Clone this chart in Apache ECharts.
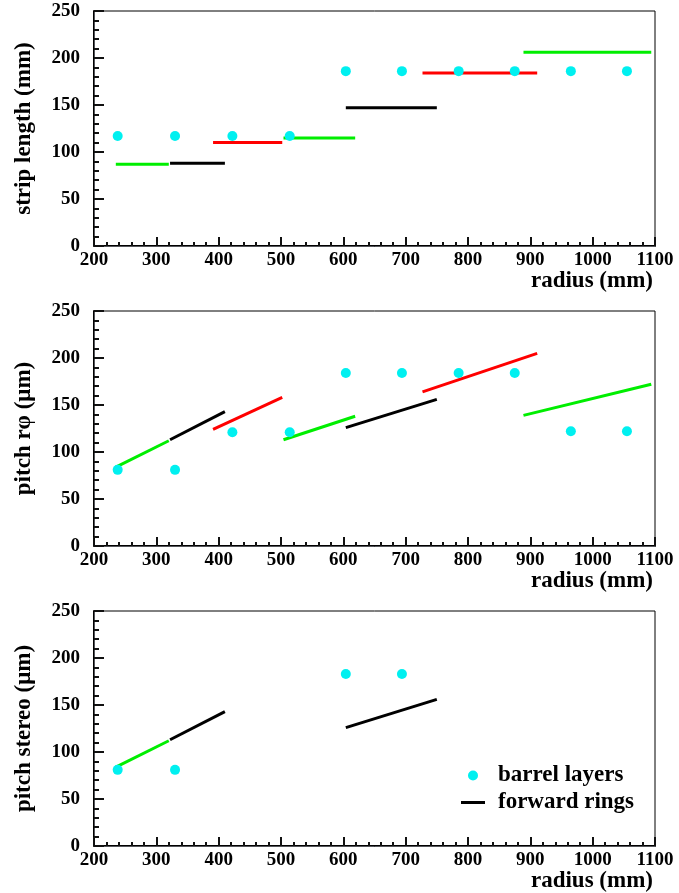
<!DOCTYPE html>
<html>
<head>
<meta charset="utf-8">
<script src="https://cdn.jsdelivr.net/npm/echarts@6/dist/echarts.min.js"></script>
</head>
<body style="margin:0;background:#fff">
<div id="chart" style="width:679px;height:893px"></div>
<script>
(function () {
    // barrel layers (radius in mm)
    var barrelR = [238, 330, 422, 514, 604, 694, 785, 875, 965, 1055];
    var barrelStrip = [117, 117, 117, 117, 186, 186, 186, 186, 186, 186];
    var barrelPitch = [81, 81, 121, 121, 184, 184, 184, 184, 122, 122];
    // barrel layers with stereo modules
    var stereoR = [238, 330, 604, 694];
    var barrelStereo = [81, 81, 183, 183];

    // forward rings: inner / outer radius
    var ringRin = [235, 322, 391, 504, 604, 727, 889];
    var ringRout = [320, 410, 502, 619, 750, 911, 1094];
    var ringColor = ['#00ee00', '#000000', '#ff0000', '#00ee00', '#000000', '#ff0000', '#00ee00'];
    var ringStrip = [87, 88, 110, 115, 147, 184, 206];
    var ringPitchIn = [84, 113, 124, 113, 126, 164, 139];
    var ringPitchOut = [112, 143, 158, 138, 156, 205, 172];
    // rings with stereo modules
    var stereoRings = [0, 1, 4];
    var ringStereoIn = [84, 113, 126];
    var ringStereoOut = [112, 143, 156];

    var yNames = ['strip length (mm)', 'pitch r\u03c6 (\u03bcm)', 'pitch stereo (\u03bcm)'];
    var xName = 'radius (mm)';
    var gridTops = [11, 311, 611];

    var font = 'Liberation Serif';
    var myChart = echarts.init(document.getElementById('chart'));

    var grids = [], xAxes = [], yAxes = [], series = [], texts = [];
    var plain = function (v) { return String(v); };
    var empty = function () { return ''; };

    var g;
    for (g = 0; g < 3; g++) {
        grids.push({
            left: 94, width: 561, top: gridTops[g], height: 235,
            outerBoundsMode: 'none',
            show: true, borderColor: '#000'
        });
        // main axes: line, labels, names
        xAxes.push({
            gridIndex: g, type: 'value', min: 200, max: 1100, interval: 100,
            axisLine: { show: true, onZero: false, lineStyle: { color: '#000', width: 2 } },
            axisTick: { show: false },
            axisLabel: { fontFamily: font, fontWeight: 'bold', fontSize: 19, color: '#000', margin: 5, formatter: plain },
            splitLine: { show: false }
        });
        yAxes.push({
            gridIndex: g, type: 'value', min: 0, max: 250, interval: 50,
            name: yNames[g], nameLocation: 'middle', nameGap: 58, nameRotate: 90,
            nameTextStyle: { fontFamily: font, fontWeight: 'bold', fontSize: 23, color: '#000' },
            axisLine: { show: true, onZero: false, lineStyle: { color: '#000', width: 2 } },
            axisTick: { show: false },
            axisLabel: { fontFamily: font, fontWeight: 'bold', fontSize: 19, color: '#000', margin: 14, formatter: plain },
            splitLine: { show: false }
        });
        // x axis title, right aligned under the axis end
        texts.push({
            type: 'text', right: 26, top: gridTops[g] + 235 + 24,
            style: { text: xName, fill: '#000', font: 'bold 23px "Liberation Serif"' }
        });
    }
    // tick axes, kept as plain as possible
    for (g = 0; g < 3; g++) {
        xAxes.push({
            gridIndex: g, type: 'value', min: 200, max: 1100, interval: 100, position: 'bottom',
            axisTick: { show: true, inside: true, length: 9, lineStyle: { color: '#111', width: 2 } },
            minorTick: { show: true, splitNumber: 5, length: 4, lineStyle: { color: '#111', width: 2 } },
            axisLabel: { formatter: empty },
            splitLine: { lineStyle: { color: 'rgba(255,255,255,0)' } }
        });
        yAxes.push({
            gridIndex: g, type: 'value', min: 0, max: 250, interval: 50, position: 'left',
            axisLine: { show: true },
            axisTick: { show: true, inside: true, length: 10, lineStyle: { color: '#111', width: 2 } },
            minorTick: { show: true, splitNumber: 5, length: 5, lineStyle: { color: '#111', width: 2 } },
            axisLabel: { formatter: empty },
            splitLine: { lineStyle: { color: 'rgba(255,255,255,0)' } }
        });
    }

    function ringSeries(g, idx, v1, v2) {
        var black = ringColor[idx] === '#000000';
        series.push({
            name: (g === 2 && black) ? 'forward rings' : 'ring ' + (idx + 1),
            type: 'line', xAxisIndex: g, yAxisIndex: g,
            data: [[ringRin[idx], v1], [ringRout[idx], v2]],
            showSymbol: false, symbol: 'none',
            lineStyle: { color: ringColor[idx], width: 3 },
            itemStyle: { color: ringColor[idx] }
        });
    }

    function barrelSeries(g, xs, ys) {
        series.push({
            name: 'barrel layers', type: 'scatter', xAxisIndex: g, yAxisIndex: g,
            data: xs.map(function (x, i) { return [x, ys[i]]; }),
            symbolSize: 10, z: 5,
            itemStyle: { color: '#00f0f0', opacity: 1 }
        });
    }

    // panel 1: strip length
    for (var i = 0; i < ringRin.length; i++) ringSeries(0, i, ringStrip[i], ringStrip[i]);
    barrelSeries(0, barrelR, barrelStrip);
    // panel 2: pitch r-phi
    for (i = 0; i < ringRin.length; i++) ringSeries(1, i, ringPitchIn[i], ringPitchOut[i]);
    barrelSeries(1, barrelR, barrelPitch);
    // panel 3: pitch stereo
    for (i = 0; i < stereoRings.length; i++) ringSeries(2, stereoRings[i], ringStereoIn[i], ringStereoOut[i]);
    barrelSeries(2, stereoR, barrelStereo);

    var option = {
        animation: false,
        grid: grids,
        xAxis: xAxes,
        yAxis: yAxes,
        graphic: texts,
        legend: {
            orient: 'vertical', left: 456, top: 759,
            itemWidth: 24, itemHeight: 10, itemGap: 4,
            selectedMode: false,
            textStyle: {
                fontFamily: font, fontWeight: 'bold', fontSize: 23, color: '#000',
                lineHeight: 23, padding: [0, 0, 0, 8]
            },
            data: [
                { name: 'barrel layers', icon: 'circle', itemStyle: { color: '#00f0f0' } },
                { name: 'forward rings', icon: 'path://M0,0 L24,0 L24,3 L0,3 Z', itemStyle: { color: '#000' } }
            ]
        },
        series: series
    };

    myChart.setOption(option);
    window.addEventListener('resize', function () {
        myChart.resize();
    });
})();
</script>
</body>
</html>
